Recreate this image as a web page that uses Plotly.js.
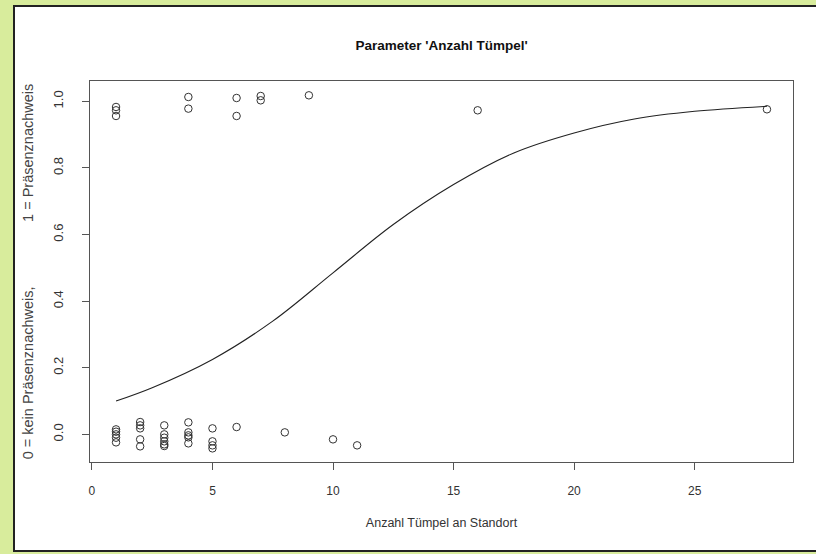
<!DOCTYPE html>
<html><head><meta charset="utf-8">
<script src="https://cdn.plot.ly/plotly-3.0.1.min.js"></script>
<style>body{margin:0;padding:0;background:#d8ec9c;}#chart{width:816px;height:554px;}</style>
</head><body><div id="chart"></div>
<script>
const absentX = [1,1,1,1,1, 2,2,2,2,2, 3,3,3,3,3,3, 4,4,4,4,4, 5,5,5,5, 6, 8, 10, 11];
const absentY = [0.015,0.008,0.0,-0.01,-0.024, 0.037,0.027,0.018,-0.015,-0.036, 0.027,0.0,-0.01,-0.021,-0.03,-0.035, 0.036,0.006,-0.003,-0.009,-0.027, 0.018,-0.021,-0.033,-0.042, 0.022, 0.006, -0.015, -0.033];
const presentX = [1,1,1, 4,4, 6,6, 7,7, 9, 16, 28];
const presentY = [0.983,0.973,0.956, 1.013,0.978, 1.010,0.956, 1.016,1.003, 1.018, 0.973, 0.976];
// Fitted curve values
const curveX = [1, 2.5, 5, 7.5, 10, 12.5, 15, 17.5, 20, 22.5, 25, 28];
const curveY = [0.10, 0.14, 0.225, 0.34, 0.485, 0.63, 0.75, 0.845, 0.905, 0.947, 0.97, 0.985];
const xTicks = [0, 5, 10, 15, 20, 25];
const yTicks = [0.0, 0.2, 0.4, 0.6, 0.8, 1.0];
const yTickText = ['0.0','0.2','0.4','0.6','0.8','1.0'];

const nb = '\u00a0'.repeat(16);
const traces = [
  {x: absentX.concat(presentX), y: absentY.concat(presentY), type:'scatter', mode:'markers',
   marker:{symbol:'circle-open', size:7.5, color:'#333', line:{width:1, color:'#333'}}, hoverinfo:'x+y'},
  {x: curveX, y: curveY, type:'scatter', mode:'lines', line:{color:'#222', width:1.1, shape:'spline', smoothing:1}}
];
const ff = 'Liberation Sans, Arial, sans-serif';
const layout = {
  width:816, height:554,
  paper_bgcolor:'#d8ec9c', plot_bgcolor:'#ffffff',
  margin:{l:90, r:23, t:81, b:92},
  showlegend:false,
  font:{family:ff, color:'#222'},
  title:{text:"<b>Parameter 'Anzahl Tümpel'</b>", x:0.5, xref:'paper', y:1-(45/554), yanchor:'middle',
         font:{size:13.5, color:'#111', family:ff}},
  xaxis:{range:[-0.08, 29.08], tickvals:xTicks, ticks:'outside', ticklen:7, tickcolor:'#555',
         showline:true, linecolor:'#555', linewidth:1, mirror:true, showgrid:false, zeroline:false,
         tickfont:{family:ff, size:12, color:'#333'}, ticklabelstandoff:11,
         title:{text:'Anzahl Tümpel an Standort', font:{size:12.5, color:'#333', family:ff}, standoff:20}},
  yaxis:{range:[-0.083, 1.061], tickvals:yTicks, ticktext:yTickText, ticks:'outside', ticklen:7, tickcolor:'#555',
         showline:true, linecolor:'#555', linewidth:1, mirror:true, showgrid:false, zeroline:false,
         tickfont:{family:ff, size:13, color:'#333'}, tickangle:-90, ticklabelstandoff:14,
         title:{text:'0 = kein Präsenznachweis,'+nb+'1 = Präsenznachweis', font:{size:14.5, color:'#444', family:ff}, standoff:13}},
  shapes:[
    {type:'rect', xref:'paper', yref:'paper', x0:(14-90)/703, x1:(900-90)/703, y0:(462-551)/381, y1:(462-6)/381,
     fillcolor:'#ffffff', line:{color:'#222', width:2}, layer:'below'}
  ]
};
Plotly.newPlot('chart', traces, layout, {displayModeBar:false, staticPlot:true});
</script></body></html>
